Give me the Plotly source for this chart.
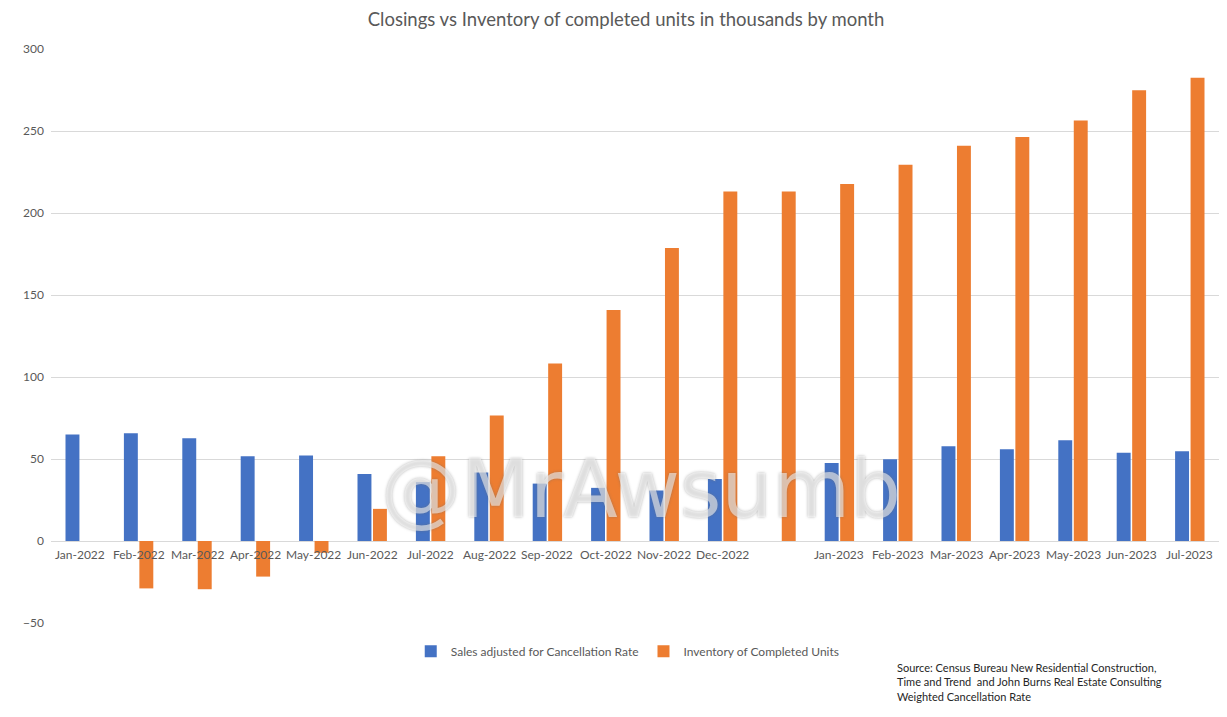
import plotly.graph_objects as go

categories = ["Jan-2022", "Feb-2022", "Mar-2022", "Apr-2022", "May-2022", "Jun-2022",
              "Jul-2022", "Aug-2022", "Sep-2022", "Oct-2022", "Nov-2022", "Dec-2022",
              " ", "Jan-2023", "Feb-2023", "Mar-2023", "Apr-2023", "May-2023",
              "Jun-2023", "Jul-2023"]
sales = [65.0, 65.7, 62.7, 51.7, 52.2, 40.8, 35.9, 41.7, 35.0, 32.4, 30.8, 37.8,
         None, 47.6, 49.9, 57.8, 55.9, 61.5, 53.8, 54.8]
inventory = [None, -28.9, -29.4, -21.7, -7.2, 19.6, 51.7, 76.5, 108.2, 140.8, 178.6, 213.1,
             213.1, 217.7, 229.4, 241.0, 246.4, 256.4, 274.8, 282.5]
y_ticks = [-50, 0, 50, 100, 150, 200, 250, 300]

title_text = "Closings vs Inventory of completed units in thousands by month"
source_text = ("Source: Census Bureau New Residential Construction,<br>"
               "Time and Trend  and John Burns Real Estate Consulting<br>"
               "Weighted Cancellation Rate")
watermark = "@MrAwsumb"

FONT = "Lato"
GREY = "#595959"

fig = go.Figure()
fig.add_trace(go.Bar(x=categories, y=sales, name="Sales adjusted for Cancellation Rate",
                     marker=dict(color="#4472C4", line=dict(width=0))))
fig.add_trace(go.Bar(x=categories, y=inventory, name="Inventory of Completed Units",
                     marker=dict(color="#ED7D31", line=dict(width=0))))

annotations = []
for c in categories:
    annotations.append(dict(x=c, y=0, xref="x", yref="y", text=c, showarrow=False,
                            yanchor="top", yshift=-4,
                            font=dict(family=FONT, size=12, color=GREY)))
annotations.append(dict(x=0.723, y=-0.062, xref="paper", yref="paper", text=source_text,
                        showarrow=False, xanchor="left", yanchor="top", align="left",
                        font=dict(family=FONT, size=11, color="#262626")))
annotations.append(dict(x=0.505, y=0.232, xref="paper", yref="paper", text=watermark,
                        showarrow=False, xanchor="center", yanchor="middle",
                        font=dict(family="DejaVu Sans", size=80, color="rgba(255,255,255,0.55)",
                                  shadow="0px 0px 3px rgba(110,110,110,0.9)")))

fig.update_layout(
    width=1219, height=709,
    margin=dict(l=43, r=8, t=41, b=94),
    paper_bgcolor="white", plot_bgcolor="white",
    title=dict(text=title_text, x=0.507, xanchor="center", y=0.9835, yanchor="middle",
               font=dict(family=FONT, size=18.5, color=GREY)),
    barmode="group", bargap=0.47, bargroupgap=0.1,
    showlegend=True,
    legend=dict(orientation="h", x=0.308, xanchor="left", y=-0.049, yanchor="middle",
                font=dict(family=FONT, size=12, color=GREY), itemsizing="constant",
                traceorder="normal"),
    annotations=annotations,
    xaxis=dict(type="category", showticklabels=False, showgrid=False, zeroline=False,
               showline=False, ticks=""),
    yaxis=dict(range=[-50, 300], tickvals=y_ticks, showgrid=True, gridcolor="#d9d9d9",
               gridwidth=1, zeroline=True, zerolinecolor="#d9d9d9", zerolinewidth=1,
               showline=False, ticks="", ticklabelstandoff=6,
               tickfont=dict(family=FONT, size=12, color=GREY)),
)

fig.write_html("out.html")
